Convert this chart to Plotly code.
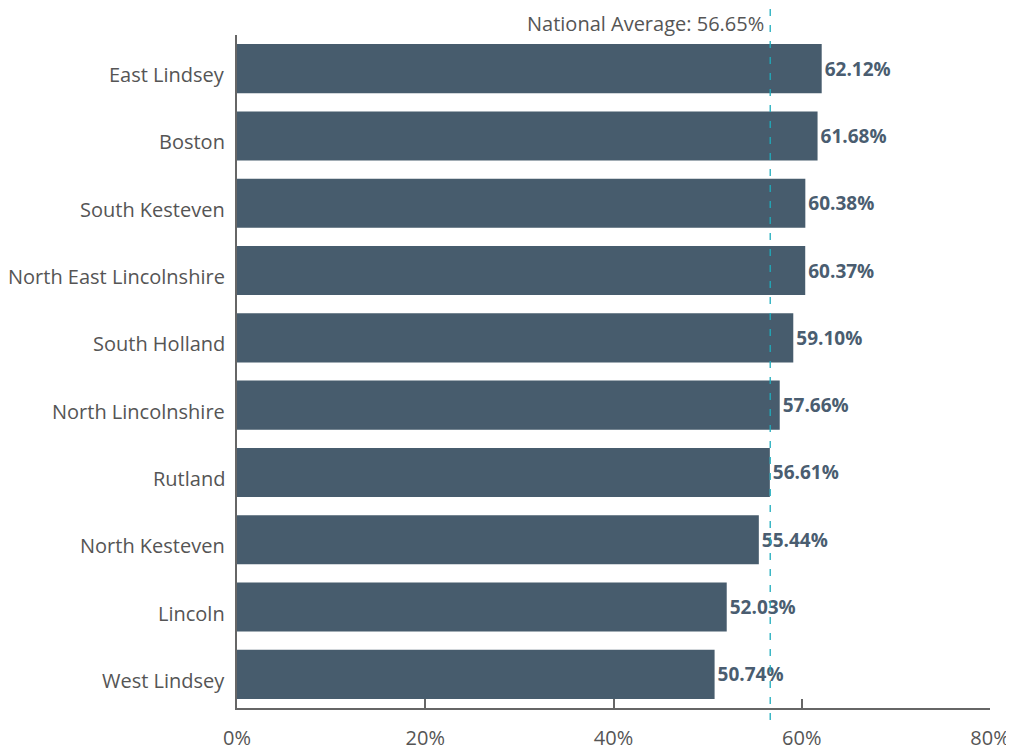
import plotly.graph_objects as go

categories = ["East Lindsey", "Boston", "South Kesteven", "North East Lincolnshire",
              "South Holland", "North Lincolnshire", "Rutland", "North Kesteven",
              "Lincoln", "West Lindsey"]
values = [62.12, 61.68, 60.38, 60.37, 59.10, 57.66, 56.61, 55.44, 52.03, 50.74]
national_avg = 56.65
x_ticks = [0, 20, 40, 60, 80]
x_tick_labels = ["0%", "20%", "40%", "60%", "80%"]

FONT = "'Open Sans', sans-serif"
BAR = "#475c6d"
TEXT = "#555555"

fig = go.Figure(go.Bar(
    y=categories, x=values, orientation="h",
    marker=dict(color=BAR, line=dict(width=0)),
    text=[f"{v:.2f}%" for v in values],
    textposition="outside",
    textfont=dict(family=FONT, size=19, color="#4a5d70", weight="bold"),
    cliponaxis=False,
    hoverinfo="skip",
))

# category labels (slightly below bar centre, as in the reference)
for c in categories:
    fig.add_annotation(x=0, xref="x", y=c, yref="y", text=c, showarrow=False,
                       xanchor="right", xshift=-10, yanchor="middle", yshift=-6,
                       font=dict(family=FONT, size=20, color=TEXT))

fig.add_shape(type="line", xref="x", yref="paper", x0=national_avg, x1=national_avg,
              y0=-0.018, y1=1.045, line=dict(color="#1fadbd", width=1.3, dash="7px,9px"))
fig.add_annotation(x=national_avg, xref="x", y=1.0, yref="paper", yshift=12,
                   text=f"National Average: {national_avg:.2f}%", showarrow=False,
                   xanchor="right", xshift=-5, yanchor="middle", borderpad=0,
                   font=dict(family=FONT, size=20, color=TEXT))

fig.update_layout(
    width=1006, height=745,
    margin=dict(l=229, r=24, t=27, b=45),
    paper_bgcolor="white", plot_bgcolor="white",
    bargap=0.27, showlegend=False,
    font=dict(family=FONT, size=20, color=TEXT),
)
fig.update_xaxes(range=[0, 80], tickvals=x_ticks, ticktext=x_tick_labels, automargin=False,
                 showgrid=False, zeroline=False, showline=True, linecolor="#666666",
                 linewidth=1.5, ticks="inside", ticklen=9, tickcolor="#666666", tickwidth=1.5,
                 ticklabelstandoff=11, tickfont=dict(family=FONT, size=20, color=TEXT))
fig.update_yaxes(autorange="reversed", showgrid=False, zeroline=False, showline=True,
                 automargin=False, showticklabels=False,
                 linecolor="#666666", linewidth=1.5, ticks="")

fig.write_html("out.html")
